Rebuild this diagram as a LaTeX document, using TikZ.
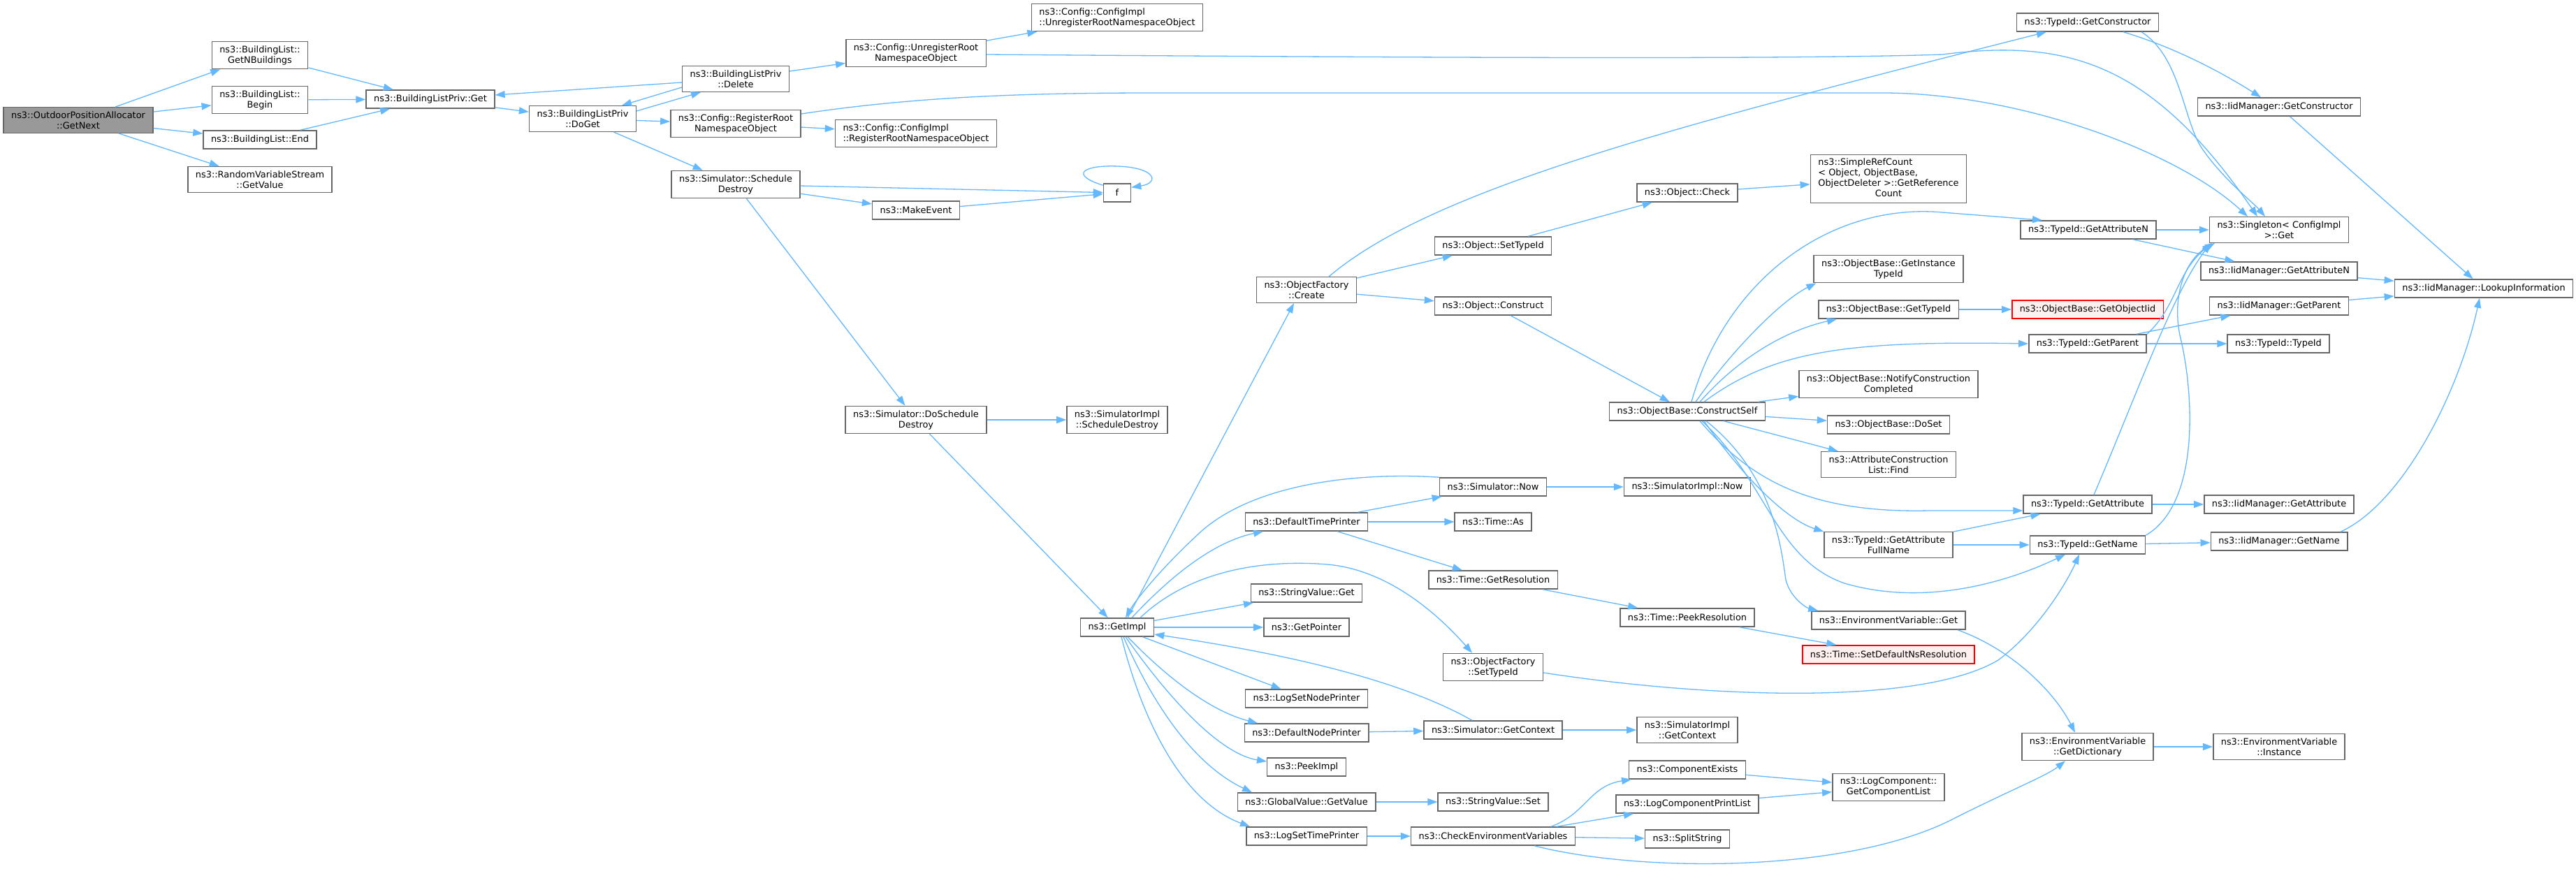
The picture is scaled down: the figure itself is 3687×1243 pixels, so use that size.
\documentclass[tikz,border=0pt]{standalone}
\usepackage{fontspec}
\setmainfont{DejaVu Sans}
\usepackage{tikz}
\usetikzlibrary{arrows.meta}
\definecolor{callblue}{HTML}{63B8FF}
\definecolor{boxgray}{HTML}{666666}
\definecolor{rootgray}{HTML}{999999}
\definecolor{missred}{HTML}{FF0000}
\definecolor{missfill}{HTML}{FFF0F0}

\begin{document}
\begin{tikzpicture}[x=1pt,y=-1pt,>={Triangle[length=14pt,width=10pt]},
	func/.style={draw=boxgray,line width=1.5pt,fill=white,align=center,inner xsep=11pt,inner ysep=5.8pt,minimum height=26pt,font=\fontsize{12.9}{15}\selectfont},
	rootfunc/.style={func,fill=rootgray},
	redfunc/.style={func,draw=missred,fill=missfill},
	call/.style={color=callblue,line width=1.3pt}]
	\useasboundingbox (0,0) rectangle (3687,1243);
	\fill[white] (0,0) rectangle (3687,1243);

	\node[rootfunc] (GetNext) at (112,172) {ns3::OutdoorPositionAllocator\\::GetNext};
	\node[func] (GetNBuildings) at (372,79) {ns3::BuildingList::\\GetNBuildings};
	\node[func] (Begin) at (372,143) {ns3::BuildingList::\\Begin};
	\node[func] (End) at (372,200) {ns3::BuildingList::End};
	\node[func] (RVSGetValue) at (372,257) {ns3::RandomVariableStream\\::GetValue};
	\node[func] (BLPGet) at (616,142) {ns3::BuildingListPriv::Get};
	\node[func] (BLPDoGet) at (834,170) {ns3::BuildingListPriv\\::DoGet};
	\node[func] (BLPDelete) at (1053,113) {ns3::BuildingListPriv\\::Delete};
	\node[func] (RegisterRoot) at (1053,177) {ns3::Config::RegisterRoot\\NamespaceObject};
	\node[func] (ScheduleDestroy) at (1053,264) {ns3::Simulator::Schedule\\Destroy};
	\node[func] (UnregisterRoot) at (1311,76) {ns3::Config::UnregisterRoot\\NamespaceObject};
	\node[func,align=left] (ImplUnregister) at (1599,25) {ns3::Config::ConfigImpl\\::UnregisterRootNamespaceObject};
	\node[func,align=left] (ImplRegister) at (1311,191) {ns3::Config::ConfigImpl\\::RegisterRootNamespaceObject};
	\node[func] (MakeEvent) at (1311,301) {ns3::MakeEvent};
	\node[func,minimum width=39pt] (F) at (1599,276) {f};
	\node[func] (DoScheduleDestroy) at (1311,601) {ns3::Simulator::DoSchedule\\Destroy};
	\node[func] (ImplScheduleDestroy) at (1599,601) {ns3::SimulatorImpl\\::ScheduleDestroy};
	\node[func] (GetImpl) at (1599,898) {ns3::GetImpl};
	\node[func] (Create) at (1870,415) {ns3::ObjectFactory\\::Create};
	\node[func] (DefaultTimePrinter) at (1870,747) {ns3::DefaultTimePrinter};
	\node[func] (StringValueGet) at (1870,849) {ns3::StringValue::Get};
	\node[func] (GetPointer) at (1870,898) {ns3::GetPointer};
	\node[func] (LogSetNodePrinter) at (1870,1000) {ns3::LogSetNodePrinter};
	\node[func] (DefaultNodePrinter) at (1870,1049) {ns3::DefaultNodePrinter};
	\node[func] (PeekImpl) at (1870,1098) {ns3::PeekImpl};
	\node[func] (GlobalGetValue) at (1870,1148) {ns3::GlobalValue::GetValue};
	\node[func] (LogSetTimePrinter) at (1870,1197) {ns3::LogSetTimePrinter};
	\node[func] (ObjectSetTypeId) at (2137,352) {ns3::Object::SetTypeId};
	\node[func] (ObjectConstruct) at (2137,438) {ns3::Object::Construct};
	\node[func] (SimNow) at (2137,697) {ns3::Simulator::Now};
	\node[func] (TimeAs) at (2137,747) {ns3::Time::As};
	\node[func] (GetResolution) at (2137,830) {ns3::Time::GetResolution};
	\node[func] (FactorySetTypeId) at (2137,955) {ns3::ObjectFactory\\::SetTypeId};
	\node[func] (SimGetContext) at (2137,1045) {ns3::Simulator::GetContext};
	\node[func] (StringValueSet) at (2137,1148) {ns3::StringValue::Set};
	\node[func] (CheckEnv) at (2137,1197) {ns3::CheckEnvironmentVariables};
	\node[func] (ObjectCheck) at (2415,276) {ns3::Object::Check};
	\node[func] (ConstructSelf) at (2415,589) {ns3::ObjectBase::ConstructSelf};
	\node[func] (ImplNow) at (2415,697) {ns3::SimulatorImpl::Now};
	\node[func] (PeekResolution) at (2415,884) {ns3::Time::PeekResolution};
	\node[func] (ImplGetContext) at (2415,1045) {ns3::SimulatorImpl\\::GetContext};
	\node[func] (ComponentExists) at (2415,1102) {ns3::ComponentExists};
	\node[func] (PrintList) at (2415,1151) {ns3::LogComponentPrintList};
	\node[func] (SplitString) at (2415,1201) {ns3::SplitString};
	\node[func,inner ysep=4.3pt] (RefCount) at (2703,256) {\begin{tabular}{@{}l@{}}ns3::SimpleRefCount\\< Object, ObjectBase,\\ ObjectDeleter >::GetReference\\\multicolumn{1}{@{}c@{}}{Count}\end{tabular}};
	\node[func] (GetInstanceTypeId) at (2703,385) {ns3::ObjectBase::GetInstance\\TypeId};
	\node[func] (BaseGetTypeId) at (2703,443) {ns3::ObjectBase::GetTypeId};
	\node[func] (NotifyCompleted) at (2703,550) {ns3::ObjectBase::NotifyConstruction\\Completed};
	\node[func] (DoSet) at (2703,608) {ns3::ObjectBase::DoSet};
	\node[func] (ListFind) at (2703,665) {ns3::AttributeConstruction\\List::Find};
	\node[func] (GetAttributeFullName) at (2703,780) {ns3::TypeId::GetAttribute\\FullName};
	\node[func] (EnvGet) at (2703,888) {ns3::EnvironmentVariable::Get};
	\node[redfunc] (SetDefaultNsRes) at (2703,937) {ns3::Time::SetDefaultNsResolution};
	\node[func] (GetComponentList) at (2703,1127) {ns3::LogComponent::\\GetComponentList};
	\node[func] (TidGetConstructor) at (2988,32) {ns3::TypeId::GetConstructor};
	\node[func] (TidGetAttributeN) at (2989,329) {ns3::TypeId::GetAttributeN};
	\node[redfunc] (GetObjectIid) at (2988,443) {ns3::ObjectBase::GetObjectIid};
	\node[func] (TidGetParent) at (2988,492) {ns3::TypeId::GetParent};
	\node[func] (TidGetAttribute) at (2988,722) {ns3::TypeId::GetAttribute};
	\node[func] (TidGetName) at (2988,780) {ns3::TypeId::GetName};
	\node[func] (GetDictionary) at (2988,1069) {ns3::EnvironmentVariable\\::GetDictionary};
	\node[func] (SingletonGet) at (3262,329) {ns3::Singleton< ConfigImpl\\ >::Get};
	\node[func] (IidGetConstructor) at (3262,153) {ns3::IidManager::GetConstructor};
	\node[func] (IidGetAttributeN) at (3262,388) {ns3::IidManager::GetAttributeN};
	\node[func] (IidGetParent) at (3262,438) {ns3::IidManager::GetParent};
	\node[func] (TypeIdTypeId) at (3261,492) {ns3::TypeId::TypeId};
	\node[func] (IidGetAttribute) at (3262,722) {ns3::IidManager::GetAttribute};
	\node[func] (IidGetName) at (3262,775) {ns3::IidManager::GetName};
	\node[func] (EnvInstance) at (3262,1069) {ns3::EnvironmentVariable\\::Instance};
	\node[func] (LookupInformation) at (3555,413) {ns3::IidManager::LookupInformation};

	\path[->,call]
	(GetNext) edge (GetNBuildings)
	(GetNext) edge (Begin)
	(GetNext) edge (End)
	(GetNext) edge (RVSGetValue)
	(GetNBuildings) edge (BLPGet)
	(Begin) edge (BLPGet)
	(End) edge (BLPGet)
	(BLPGet) edge (BLPDoGet)
	(BLPDoGet) edge (RegisterRoot)
	(BLPDoGet) edge (ScheduleDestroy)
	(BLPDelete) edge (UnregisterRoot)
	(UnregisterRoot) edge (ImplUnregister)
	(RegisterRoot) edge (ImplRegister)
	(ScheduleDestroy) edge (F)
	(ScheduleDestroy) edge (MakeEvent)
	(MakeEvent) edge (F)
	(ScheduleDestroy) edge (DoScheduleDestroy)
	(DoScheduleDestroy) edge (ImplScheduleDestroy)
	(DoScheduleDestroy) edge (GetImpl)
	(Create) edge (ObjectSetTypeId)
	(Create) edge (ObjectConstruct)
	(ObjectSetTypeId) edge (ObjectCheck)
	(ObjectCheck) edge (RefCount)
	(ObjectConstruct) edge (ConstructSelf)
	(ConstructSelf) edge (NotifyCompleted)
	(ConstructSelf) edge (DoSet)
	(ConstructSelf) edge (ListFind)
	(BaseGetTypeId) edge (GetObjectIid)
	(TidGetParent) edge (IidGetParent)
	(TidGetParent) edge (TypeIdTypeId)
	(TidGetAttributeN) edge (SingletonGet)
	(TidGetAttributeN) edge (IidGetAttributeN)
	(IidGetAttributeN) edge (LookupInformation)
	(IidGetParent) edge (LookupInformation)
	(IidGetConstructor) edge (LookupInformation)
	(TidGetAttribute) edge (IidGetAttribute)
	(TidGetName) edge (IidGetName)
	(GetAttributeFullName) edge (TidGetAttribute)
	(GetAttributeFullName) edge (TidGetName)
	(DefaultTimePrinter) edge (SimNow)
	(DefaultTimePrinter) edge (TimeAs)
	(DefaultTimePrinter) edge (GetResolution)
	(SimNow) edge (ImplNow)
	(GetResolution) edge (PeekResolution)
	(PeekResolution) edge (SetDefaultNsRes)
	(GetImpl) edge (StringValueGet)
	(GetImpl) edge (GetPointer)
	(GetImpl) edge (LogSetNodePrinter)
	(DefaultNodePrinter) edge (SimGetContext)
	(SimGetContext) edge (ImplGetContext)
	(GlobalGetValue) edge (StringValueSet)
	(LogSetTimePrinter) edge (CheckEnv)
	(CheckEnv) edge (SplitString)
	(ComponentExists) edge (GetComponentList)
	(PrintList) edge (GetComponentList)
	(GetDictionary) edge (EnvInstance);

	\draw[->,call] ([yshift=-12pt]BLPDelete.west) -- ([xshift=56pt]BLPDoGet.north);
	\draw[->,call] ([yshift=-8pt]BLPDoGet.north east) -- ([xshift=-50pt]BLPDelete.south);
	\draw[->,call] ([yshift=-5pt]BLPDelete.west) -- ([yshift=6pt]BLPGet.east);
	\draw[->,call] ([yshift=-2pt]UnregisterRoot.east) .. controls (2200,84) and (2600,84) .. (2780,78) .. controls (2960,55) and (3080,90) .. ([xshift=-31pt]SingletonGet.north);
	\draw[->,call] ([yshift=14pt]RegisterRoot.east) .. controls (1300,140) and (1450,133) .. (1650,133) -- (2700,133) .. controls (2900,135) and (3120,220) .. ([xshift=-45pt]SingletonGet.north);
	\draw[->,call] ([yshift=-3pt]F.north west) .. controls (1530,250) and (1550,236) .. (1600,238) .. controls (1655,240) and (1660,262) .. ([yshift=-6pt]F.north east);
	\draw[->,call] ([xshift=15pt]GetImpl.north) -- ([xshift=-18pt]Create.south);
	\draw[->,call] ([xshift=32pt]Create.north) .. controls (2050,270) and (2400,180) .. ([xshift=-59pt]TidGetConstructor.south);
	\draw[->,call] ([xshift=6pt]ConstructSelf.north) .. controls (2470,400) and (2620,290) .. (2780,304) -- ([xshift=-66pt]TidGetAttributeN.north);
	\draw[->,call] ([xshift=12pt]ConstructSelf.north) .. controls (2480,500) and (2550,430) .. ([xshift=4pt]GetInstanceTypeId.south west);
	\draw[->,call] ([xshift=18pt]ConstructSelf.north) .. controls (2500,500) and (2570,470) .. ([xshift=-74pt]BaseGetTypeId.south);
	\draw[->,call] ([xshift=24pt]ConstructSelf.north) .. controls (2540,500) and (2650,488) .. (TidGetParent.west);
	\draw[->,call] ([xshift=18pt]ConstructSelf.south) .. controls (2500,680) and (2580,735) .. (2760,731) -- ([yshift=-9pt]TidGetAttribute.west);
	\draw[->,call] ([xshift=24pt]ConstructSelf.south) .. controls (2500,690) and (2560,745) .. (GetAttributeFullName.north west);
	\draw[->,call] ([xshift=21pt]ConstructSelf.south) .. controls (2530,690) and (2540,800) .. (2640,835) .. controls (2760,870) and (2880,830) .. ([xshift=-32pt]TidGetName.south);
	\draw[->,call] ([xshift=27pt]ConstructSelf.south) .. controls (2540,680) and (2550,790) .. (2556,830) .. controls (2562,855) and (2585,870) .. ([xshift=10pt]EnvGet.north west);
	\draw[->,call] (TidGetParent.north east) .. controls (3115,440) and (3115,390) .. ([xshift=-96pt]SingletonGet.south);
	\draw[->,call] ([xshift=9pt]TidGetAttribute.north) .. controls (3060,560) and (3110,420) .. ([xshift=-98pt]SingletonGet.south);
	\draw[->,call] (TidGetName.north east) .. controls (3150,720) and (3140,560) .. (3120,480) .. controls (3108,420) and (3130,370) .. ([xshift=-92pt]SingletonGet.south);
	\draw[->,call] ([xshift=77pt]TidGetConstructor.south) .. controls (3120,80) and (3125,170) .. (3150,210) .. controls (3180,255) and (3225,290) .. ([xshift=-20pt]SingletonGet.north);
	\draw[->,call] ([xshift=51pt]TidGetConstructor.south) .. controls (3120,70) and (3190,110) .. ([xshift=-26pt]IidGetConstructor.north);
	\draw[->,call] ([xshift=88pt]IidGetName.north) .. controls (3440,720) and (3520,560) .. ([xshift=-6pt]LookupInformation.south);
	\draw[->,call] (SimNow.north west) .. controls (1950,676) and (1800,690) .. (1720,760) .. controls (1660,815) and (1625,860) .. ([xshift=12pt]GetImpl.north);
	\draw[->,call] ([xshift=21pt]GetImpl.north) .. controls (1680,820) and (1740,775) .. ([xshift=-62pt]DefaultTimePrinter.south);
	\draw[->,call] ([xshift=33pt]GetImpl.north) .. controls (1700,820) and (1800,800) .. (1900,808) .. controls (1980,815) and (2050,870) .. ([xshift=-30pt]FactorySetTypeId.north);
	\draw[->,call] ([xshift=-30pt]SimGetContext.north) .. controls (1990,965) and (1800,930) .. ([yshift=-10pt]GetImpl.east);
	\draw[->,call] ([xshift=15pt]GetImpl.south) .. controls (1680,980) and (1740,1020) .. ([xshift=-70pt]DefaultNodePrinter.north);
	\draw[->,call] ([xshift=12pt]GetImpl.south) .. controls (1680,1010) and (1750,1080) .. ([yshift=8pt]PeekImpl.west);
	\draw[->,call] ([xshift=9pt]GetImpl.south) .. controls (1660,1030) and (1720,1100) .. ([xshift=-78pt]GlobalGetValue.north);
	\draw[->,call] ([xshift=6pt]GetImpl.south) .. controls (1640,1050) and (1700,1150) .. ([xshift=-81pt]LogSetTimePrinter.north);
	\draw[->,call] ([yshift=-8pt]FactorySetTypeId.east) .. controls (2450,1000) and (2750,1010) .. (2860,945) .. controls (2920,900) and (2960,830) .. ([xshift=-12pt]TidGetName.south);
	\draw[->,call] ([xshift=83pt]CheckEnv.north) .. controls (2270,1165) and (2275,1125) .. ([xshift=-80pt]ComponentExists.south);
	\draw[->,call] ([xshift=91pt]CheckEnv.north) -- ([xshift=-77pt]PrintList.south);
	\draw[->,call] ([xshift=59pt]CheckEnv.south) .. controls (2350,1250) and (2650,1250) .. (2800,1170) .. controls (2880,1130) and (2930,1110) .. ([xshift=-32pt]GetDictionary.south);
	\draw[->,call] ([xshift=99pt]EnvGet.south) .. controls (2880,930) and (2940,990) .. ([xshift=-18pt]GetDictionary.north);
\end{tikzpicture}
\end{document}
